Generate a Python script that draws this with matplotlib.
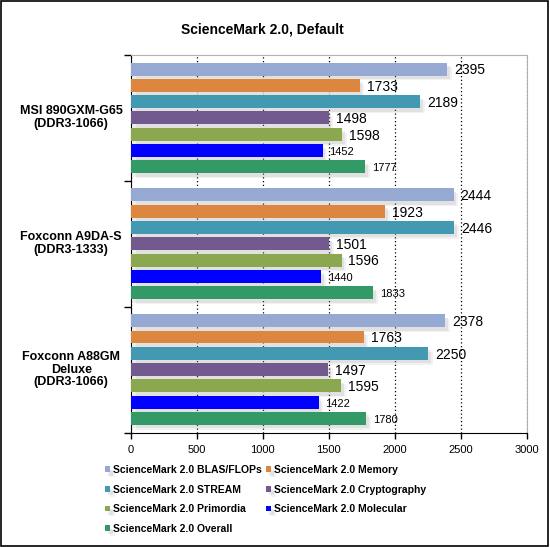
import numpy as np
import matplotlib
matplotlib.use("Agg")
import matplotlib.pyplot as plt
import matplotlib.patheffects as pe
from matplotlib.patches import Rectangle

plt.rcParams['font.family'] = ['Liberation Sans', 'DejaVu Sans']

boards = ['MSI 890GXM-G65\n(DDR3-1066)', 'Foxconn A9DA-S\n(DDR3-1333)',
          'Foxconn A88GM\nDeluxe\n(DDR3-1066)']
series = ['ScienceMark 2.0 BLAS/FLOPs', 'ScienceMark 2.0 Memory',
          'ScienceMark 2.0 STREAM', 'ScienceMark 2.0 Cryptography',
          'ScienceMark 2.0 Primordia', 'ScienceMark 2.0 Molecular',
          'ScienceMark 2.0 Overall']
blas = [2395, 2444, 2378]
memory = [1733, 1923, 1763]
stream = [2189, 2446, 2250]
crypto = [1498, 1501, 1497]
primordia = [1598, 1596, 1595]
molecular = [1452, 1440, 1422]
overall = [1777, 1833, 1780]
values = [blas, memory, stream, crypto, primordia, molecular, overall]
colors = ['#95A9D2', '#DC8640', '#4499B2', '#725A8F', '#8BA74F', '#0000FF', '#339966']
label_sizes = [10, 10, 10, 10, 10, 8, 8]

fig = plt.figure(figsize=(5.5, 5.47), dpi=100)
ax = fig.add_axes([130.7 / 550, 1 - 432.5 / 547, (527 - 130.7) / 550, (432.5 - 55) / 547])

slot = 0.1294
h = 0.103
centers = np.arange(len(boards))
# soft drop shadow under each bar
shadow = [pe.SimplePatchShadow(offset=(3.5, -3.5), shadow_rgbFace='#999999', alpha=0.12),
          pe.SimplePatchShadow(offset=(2, -2.5), shadow_rgbFace='#999999', alpha=0.18),
          pe.Normal()]
handles = []
for j, (name, vals, c) in enumerate(zip(series, values, colors)):
    y = centers + (j - 3) * slot
    bars = ax.barh(y, vals, height=h, color=c, label=name, zorder=3, path_effects=shadow)
    handles.append(bars)
    for yy, v in zip(y, vals):
        ax.annotate(str(v), (v, yy), xytext=(5, -1), textcoords='offset points',
                    va='center', ha='left', fontsize=label_sizes[j], zorder=5)

ax.set_xlim(0, 3000)
ax.set_ylim(2.5, -0.5)
ax.set_xticks(np.arange(0, 3001, 500))
ax.tick_params(axis='x', direction='out', length=4, labelsize=8, pad=5, width=1)
ax.set_yticks([-0.5, 0.5, 1.5, 2.5])
ax.set_yticklabels([])
ax.tick_params(axis='y', direction='out', length=5, width=1)
ax.grid(axis='x', color='black', linestyle=(0, (1, 2)), linewidth=0.9, zorder=0)
ax.set_axisbelow(True)
for s in ['top', 'right']:
    ax.spines[s].set_color('#B0B0B0')
for s in ['left', 'bottom']:
    ax.spines[s].set_color('black')

for yc, b in zip(centers, boards):
    ax.text(-0.15, yc, b, transform=ax.get_yaxis_transform(), ha='center', va='center',
            multialignment='center', fontsize=9, fontweight='bold', linespacing=1.1)

fig.text(262 / 550, 1 - 29 / 547, 'ScienceMark 2.0, Default', ha='center', va='center',
         fontsize=10, fontweight='bold')

order = [0, 2, 4, 6, 1, 3, 5]
leg = fig.legend([handles[i] for i in order], [series[i] for i in order], ncol=2,
                 loc='upper left', bbox_to_anchor=(105 / 550, 1 - 465 / 547), frameon=False,
                 handlelength=0.5, handleheight=0.5, handletextpad=0.3, columnspacing=0.35,
                 labelspacing=0.92, borderpad=0, borderaxespad=0,
                 prop={'size': 7.5, 'weight': 'bold'})

fig.patches.append(Rectangle((1 / 550, 1 / 547), 547 / 550, 545 / 547, transform=fig.transFigure,
                             fill=False, edgecolor='black', linewidth=1.2))

fig.savefig('out.png', dpi=100)
